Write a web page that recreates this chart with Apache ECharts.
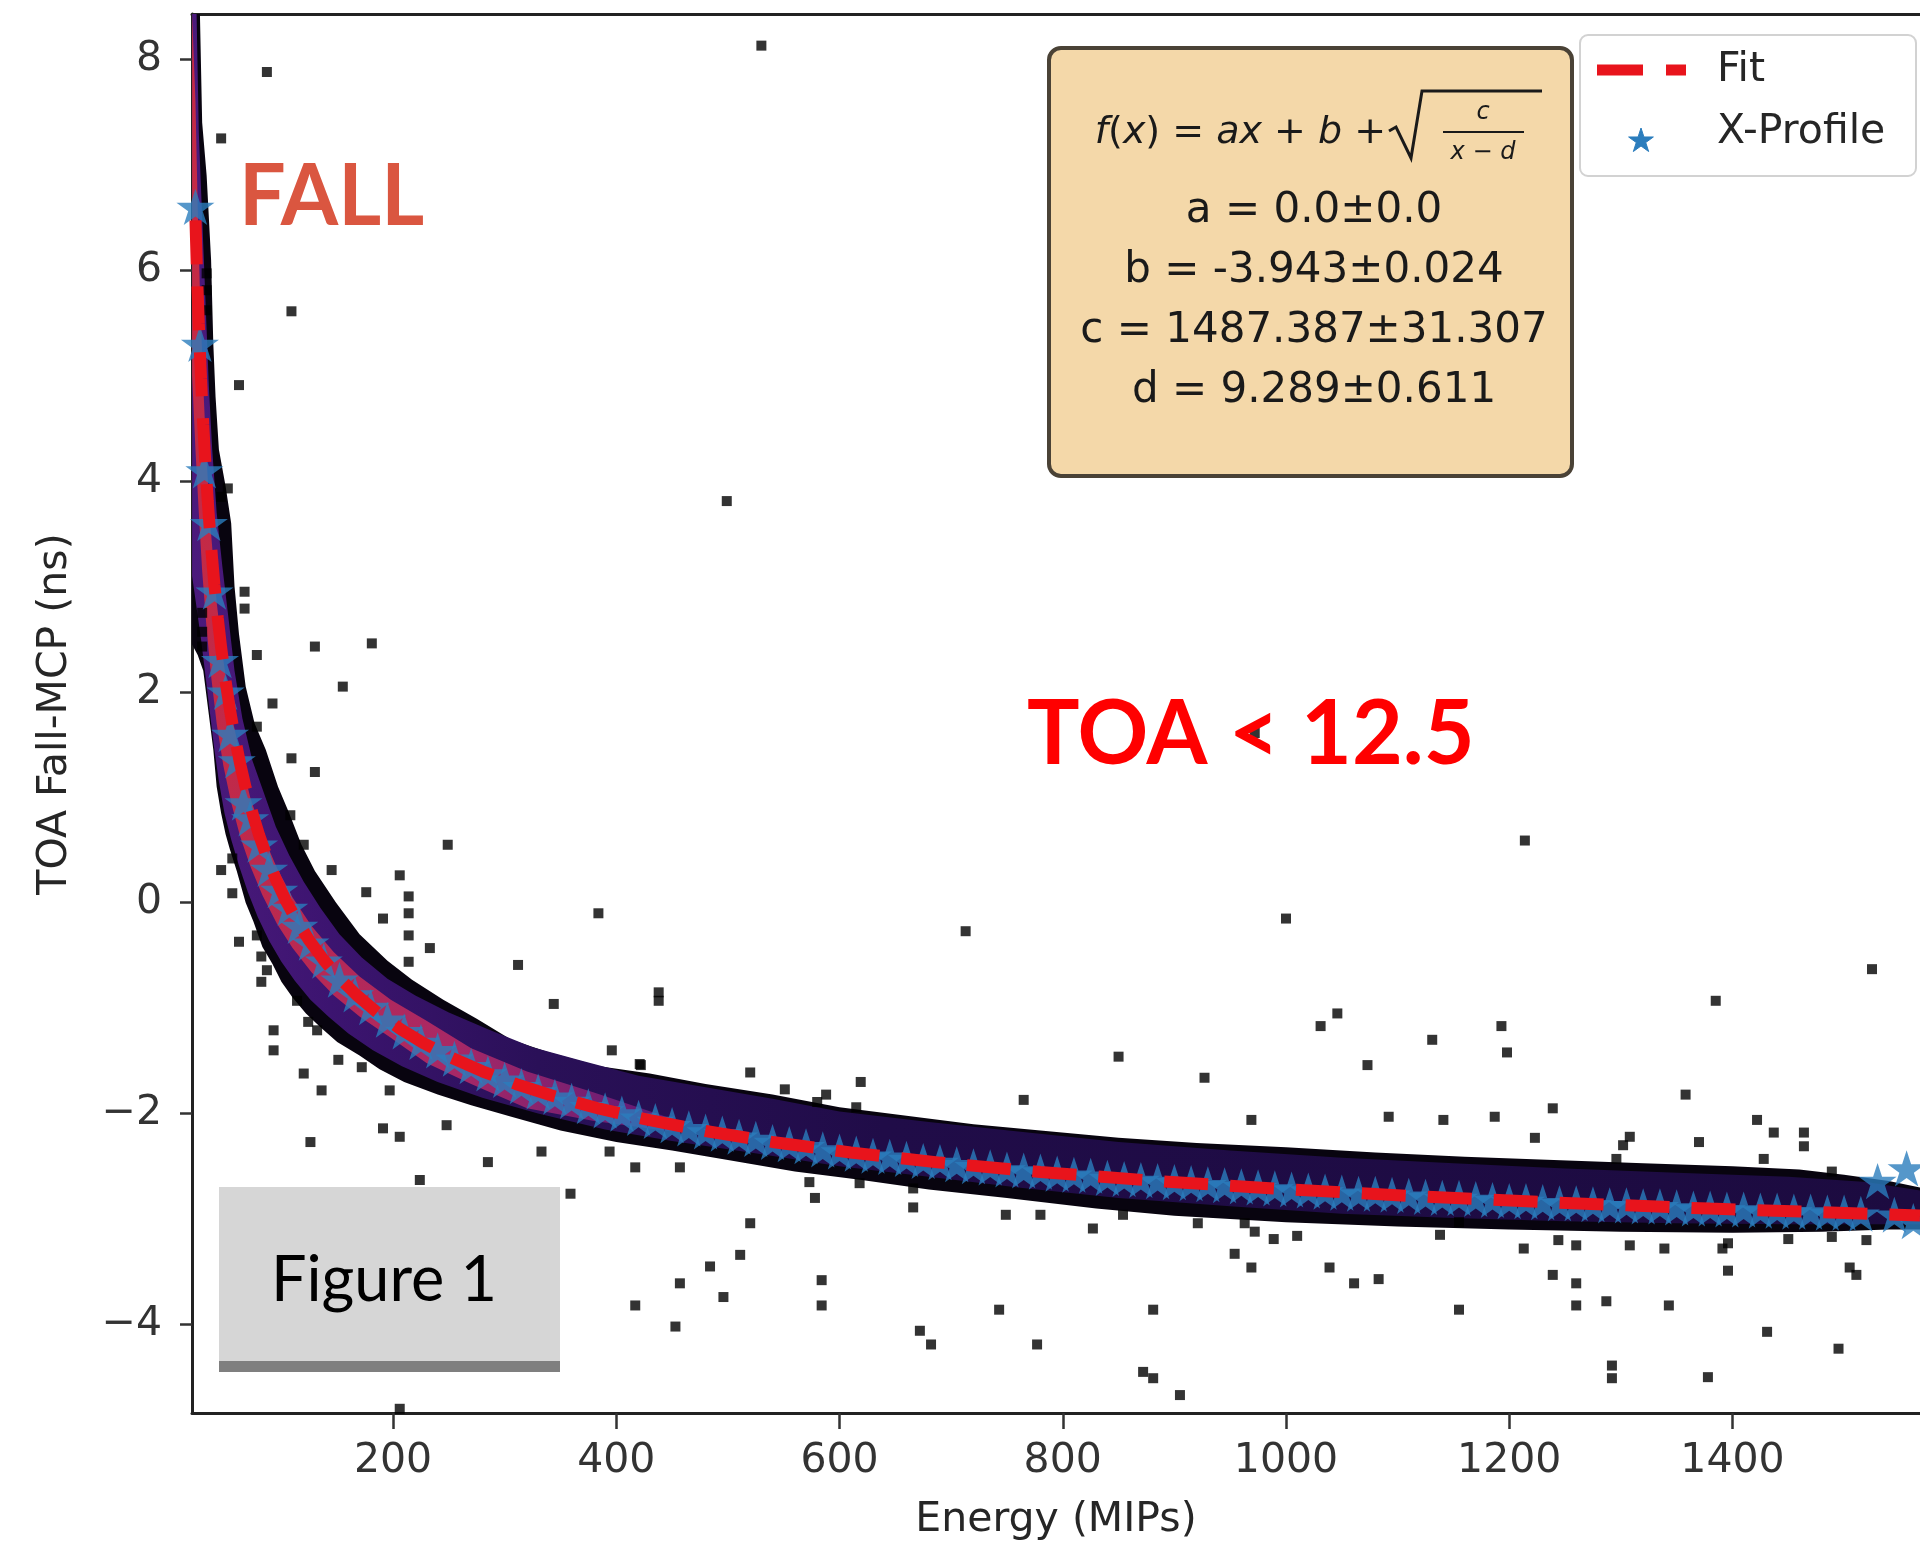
<!DOCTYPE html>
<html>
<head>
<meta charset="utf-8">
<script src="https://cdn.jsdelivr.net/npm/echarts@6/dist/echarts.min.js"></script>
<style>
  html, body { margin: 0; padding: 0; background: #ffffff; }
  #chart { width: 1920px; height: 1545px; }
</style>
</head>
<body>
<div id="chart"></div>
<script>
// ---- axes ----
const xRange = [19.9, 1568];
const yRange = [-4.84, 8.43];
const xTicks = [200, 400, 600, 800, 1000, 1200, 1400];
const yTicks = [-4, -2, 0, 2, 4, 6, 8];

// ---- fit f(x) = a*x + b + sqrt(c / (x - d)) ----
const fitA = 0.0, fitB = -3.943, fitC = 1487.387, fitD = 9.289;
const fitErrA = 0.0, fitErrB = 0.024, fitErrC = 31.307, fitErrD = 0.611;
const fitX = [23, 24, 25, 26, 27, 28, 29, 30, 32, 34, 36, 38, 40, 43, 46, 50, 54, 58, 63, 68,
  74, 80, 87, 95, 104, 114, 125, 138, 152, 168, 186, 206, 228, 252, 280, 310, 345, 385, 430,
  480, 540, 610, 690, 780, 880, 990, 1110, 1240, 1380, 1568];

// ---- X-profile (mean TOA per energy bin) ----
const profileX = [23, 27, 31, 35, 40, 45, 50, 54, 60, 66, 72, 80, 89, 98, 107, 116, 126, 138, 152, 166,
  180, 195, 210, 225, 240, 255, 270, 285, 300, 315, 330, 345, 360, 375, 390, 405, 420, 435, 450, 465,
  480, 495, 510, 525, 540, 555, 570, 585, 600, 615, 630, 645, 660, 675, 690, 705, 720, 735, 750, 765,
  780, 795, 810, 825, 840, 855, 870, 885, 900, 915, 930, 945, 960, 975, 990, 1005, 1020, 1035, 1050, 1065,
  1080, 1095, 1110, 1125, 1140, 1155, 1170, 1185, 1200, 1215, 1230, 1245, 1260, 1275, 1290, 1305, 1320, 1335, 1350, 1365,
  1380, 1395, 1410, 1425, 1440, 1455, 1470, 1485, 1500, 1515, 1530, 1545, 1556, 1562];
const profileY = [6.6, 5.3, 4.1, 3.6, 2.95, 2.3, 2.0, 1.6, 1.35, 0.95, 0.8, 0.55, 0.32, 0.12, -0.05, -0.22, -0.38, -0.55, -0.73, -0.87,
  -0.99, -1.11, -1.22, -1.32, -1.40, -1.48, -1.55, -1.62, -1.68, -1.74, -1.79, -1.84, -1.88, -1.93, -1.97, -2.00, -2.04, -2.07, -2.11, -2.14,
  -2.17, -2.19, -2.22, -2.24, -2.27, -2.29, -2.31, -2.34, -2.36, -2.38, -2.40, -2.41, -2.43, -2.45, -2.46, -2.48, -2.50, -2.51, -2.53, -2.54,
  -2.55, -2.57, -2.58, -2.59, -2.61, -2.62, -2.63, -2.64, -2.65, -2.66, -2.67, -2.68, -2.69, -2.70, -2.71, -2.72, -2.73, -2.74, -2.75, -2.76,
  -2.76, -2.77, -2.78, -2.79, -2.80, -2.80, -2.81, -2.82, -2.83, -2.83, -2.84, -2.85, -2.85, -2.86, -2.87, -2.87, -2.88, -2.88, -2.89, -2.90,
  -2.90, -2.91, -2.91, -2.92, -2.92, -2.93, -2.93, -2.94, -2.94, -2.95, -2.64, -2.96, -2.52, -3.02];

// ---- 2D histogram band: edges of the occupied region, by density level ----
const outerUpper = [[20, 8.43], [27, 8.43], [29, 7.4], [33, 6.9], [37, 6.1], [39, 5.3], [41, 4.8], [44, 4.3],
  [50, 3.95], [55, 3.6], [58, 3.0], [62, 2.55], [68, 2.05], [76, 1.7], [86, 1.45], [97, 1.1], [107, 0.85],
  [118, 0.55], [130, 0.3], [149, 0.0], [170, -0.3], [195, -0.55], [217, -0.73], [245, -0.92], [275, -1.1],
  [306, -1.3], [340, -1.42], [385, -1.55], [430, -1.62], [480, -1.72], [540, -1.82], [600, -1.94], [660, -2.02],
  [720, -2.1], [780, -2.16], [850, -2.23], [920, -2.28], [1000, -2.32], [1080, -2.37], [1160, -2.41],
  [1240, -2.44], [1320, -2.47], [1400, -2.5], [1460, -2.53], [1500, -2.58], [1540, -2.64], [1568, -2.7]];
const outerLower = [[20, 2.45], [25, 2.35], [30, 2.2], [33, 1.95], [36, 1.7], [39, 1.45], [42, 1.1], [46, 0.85],
  [50, 0.65], [54, 0.5], [60, 0.3], [68, 0.0], [75, -0.18], [83, -0.42], [92, -0.58], [100, -0.75], [110, -0.9],
  [122, -1.05], [135, -1.18], [150, -1.32], [170, -1.45], [188, -1.58], [210, -1.7], [240, -1.82], [270, -1.92],
  [306, -2.03], [350, -2.16], [400, -2.27], [450, -2.35], [500, -2.44], [560, -2.55], [620, -2.63], [680, -2.72],
  [750, -2.8], [830, -2.9], [900, -2.97], [1000, -3.03], [1100, -3.07], [1200, -3.1], [1300, -3.12],
  [1400, -3.13], [1480, -3.12], [1540, -3.1], [1568, -3.1]];
const midUpper = [[20, 8.43], [24, 8.43], [26, 7.3], [29, 6.5], [32, 5.7], [35, 4.9], [38, 4.3], [42, 3.7],
  [47, 3.2], [52, 2.75], [58, 2.2], [65, 1.75], [74, 1.35], [84, 1.05], [95, 0.72], [107, 0.45], [120, 0.2],
  [135, -0.05], [152, -0.3], [172, -0.52], [195, -0.72], [220, -0.88], [250, -1.04], [285, -1.2], [325, -1.37],
  [370, -1.5], [420, -1.64], [480, -1.75], [540, -1.86], [600, -1.98], [680, -2.08], [760, -2.17], [850, -2.27],
  [950, -2.35], [1050, -2.42], [1150, -2.47], [1250, -2.52], [1350, -2.56], [1450, -2.6], [1520, -2.65], [1568, -2.73]];
const midLower = [[20, 3.1], [24, 2.8], [28, 2.5], [32, 2.15], [36, 1.8], [40, 1.45], [44, 1.15], [49, 0.85],
  [55, 0.6], [62, 0.35], [70, 0.1], [79, -0.14], [89, -0.36], [100, -0.56], [112, -0.74], [126, -0.92],
  [142, -1.08], [160, -1.24], [182, -1.4], [208, -1.55], [240, -1.7], [280, -1.85], [330, -2.0], [390, -2.15],
  [450, -2.26], [520, -2.37], [600, -2.5], [680, -2.6], [760, -2.7], [850, -2.8], [950, -2.88], [1050, -2.95],
  [1150, -2.99], [1250, -3.02], [1350, -3.04], [1450, -3.05], [1520, -3.05], [1568, -3.05]];
const coreUpper = [[20, 8.43], [23, 7.6], [25, 6.6], [27, 5.8], [30, 4.9], [33, 4.2], [37, 3.5], [42, 2.85],
  [48, 2.3], [55, 1.8], [63, 1.4], [72, 1.0], [83, 0.65], [96, 0.33], [110, 0.05], [127, -0.22], [147, -0.47],
  [170, -0.7], [198, -0.92], [230, -1.12], [270, -1.38], [320, -1.6], [380, -1.8], [450, -2.05]];
const coreLower = [[20, 5.0], [23, 4.3], [26, 3.7], [29, 3.15], [33, 2.6], [37, 2.15], [42, 1.7], [48, 1.3],
  [55, 0.95], [63, 0.63], [72, 0.35], [83, 0.07], [96, -0.2], [110, -0.43], [127, -0.66], [147, -0.88],
  [170, -1.08], [198, -1.28], [230, -1.52], [270, -1.72], [320, -1.95], [380, -2.07], [450, -2.17]];

// ---- isolated histogram cells away from the band ----
const strayCells = [
  [87, 7.88], [46, 7.25], [109, 5.61], [62, 4.91], [52, 3.93], [46, 3.85], [33, 5.97], [33, 5.81], [33, 5.62],
  [530, 8.13], [499, 3.81],
  [67, 2.95], [67, 2.79], [29, 2.75], [29, 2.57], [29, 2.43], [78, 2.35], [130, 2.43], [181, 2.46], [155, 2.05],
  [92, 1.89], [78, 1.67], [109, 1.37], [130, 1.24], [108, 0.83], [120, 0.55], [249, 0.55], [56, 0.42], [46, 0.31],
  [145, 0.31], [206, 0.26], [56, 0.09], [176, 0.10], [214, 0.06], [214, -0.10], [191, -0.15], [384, -0.10],
  [62, -0.37], [78, -0.31], [214, -0.31], [233, -0.43], [82, -0.51], [214, -0.56], [312, -0.59], [87, -0.64],
  [82, -0.75], [438, -0.85], [438, -0.93],
  [114, -0.93], [93, -1.21], [93, -1.40], [124, -1.13], [132, -1.21], [151, -1.49], [120, -1.62], [172, -1.56],
  [136, -1.78], [197, -1.78], [126, -2.27], [191, -2.14], [206, -2.22], [248, -2.11], [285, -2.46], [224, -2.63],
  [359, -2.76], [333, -2.36], [394, -2.36], [417, -2.51], [457, -2.51], [344, -0.96], [421, -1.53], [396, -1.40],
  [457, -3.61], [417, -3.82], [453, -4.02], [206, -4.80],
  [484, -3.45], [496, -3.74], [511, -3.34], [520, -3.04], [578, -2.80], [584, -3.58], [584, -3.82], [666, -2.89],
  [672, -4.06], [682, -4.19], [743, -3.86], [749, -2.96], [777, -4.19],
  [713, -0.27], [422, -1.54], [520, -1.61], [551, -1.77], [619, -1.70], [588, -1.82], [580, -1.89], [615, -1.94],
  [765, -1.87], [850, -1.46], [573, -2.65], [618, -2.66], [666, -2.71], [780, -2.96], [827, -3.09],
  [1000, -0.15], [1046, -1.05], [1031, -1.17], [1131, -1.30], [1193, -1.17], [1198, -1.42], [1073, -1.54],
  [927, -1.66], [969, -2.06], [1092, -2.03], [1141, -2.06], [1187, -2.03], [1239, -1.95], [1223, -2.23],
  [854, -2.96], [921, -3.04], [963, -3.04], [972, -3.12], [989, -3.19], [1010, -3.16], [954, -3.33], [969, -3.46],
  [1039, -3.46], [1061, -3.61], [1083, -3.57], [1213, -3.28], [1244, -3.20], [1260, -3.25], [1239, -3.53],
  [1260, -3.61], [1260, -3.82], [1287, -3.78], [1155, -3.86], [881, -3.86], [872, -4.45], [881, -4.51],
  [905, -4.67], [1292, -4.39], [1292, -4.51], [1138, -3.15], [1155, -3.03],
  [1525, -0.63], [1385, -0.93], [1358, -1.82], [1422, -2.06], [1437, -2.18], [1464, -2.18], [1464, -2.31],
  [1370, -2.27], [1308, -2.22], [1302, -2.30], [1428, -2.43], [1296, -2.43], [1489, -2.55], [1308, -3.25],
  [1339, -3.28], [1391, -3.28], [1396, -3.23], [1396, -3.49], [1450, -3.19], [1489, -3.17], [1520, -3.20],
  [1505, -3.46], [1511, -3.53], [1343, -3.82], [1431, -4.07], [1495, -4.23],
  [1214, 0.59], [972, 1.61], [1378, -4.5]
];

// ---- text ----
const xTitle = 'Energy (MIPs)';
const yTitle = 'TOA Fall-MCP (ns)';
const fitLabel = 'Fit';
const profileLabel = 'X-Profile';
const edgeLabel = 'FALL';
const cutLabel = 'TOA < 12.5';
const figureLabel = 'Figure 1';

// ---- build ----
function fitValue(x) {
  return fitA * x + fitB + Math.sqrt(fitC / (x - fitD));
}
const fitData = fitX.map(x => [x, fitValue(x)]);
const profileData = profileX.map((x, i) => [x, profileY[i]]);

const axisFont = 'DejaVu Sans';
const inkColor = '#262626';
const starPath = 'path://M100,0L122.45,69.1L195.11,69.1L136.33,111.8L158.78,180.9L100,138.2L41.22,180.9L63.67,111.8L4.89,69.1L77.55,69.1Z';

function bandLayer(upper, lower, color, z) {
  return {
    type: 'custom',
    coordinateSystem: 'cartesian2d',
    silent: true,
    clip: true,
    z: z,
    data: [[upper[0][0], upper[0][1]]],
    renderItem: function (params, api) {
      const pts = upper.map(p => api.coord(p))
        .concat(lower.slice().reverse().map(p => api.coord(p)));
      return { type: 'polygon', shape: { points: pts }, style: { fill: color } };
    }
  };
}

function fmtY(v) {
  return v < 0 ? '\u2212' + Math.abs(v) : String(v);
}
function pm(name, val, err) {
  return name + ' = ' + val + '\u00b1' + err;
}

// legend star icon points
function starPoints(cx, cy, r) {
  const pts = [];
  for (let k = 0; k < 10; k++) {
    const ang = (-90 + k * 36) * Math.PI / 180;
    const rr = k % 2 === 0 ? r : r * 0.382;
    pts.push([cx + rr * Math.cos(ang), cy + rr * Math.sin(ang)]);
  }
  return pts;
}

// colour ramps for the density layers (low counts: indigo, high counts: red)
const midFill = new echarts.graphic.LinearGradient(0, 0, 1, 0, [
  { offset: 0, color: '#4b1a7c' }, { offset: 0.08, color: '#3c1470' },
  { offset: 0.2, color: '#2a1058' }, { offset: 0.4, color: '#200c48' }, { offset: 1, color: '#1c0b40' }
]);
const coreFill = new echarts.graphic.LinearGradient(0, 0, 1, 0, [
  { offset: 0, color: '#c42a45' }, { offset: 0.55, color: '#a82866' }, { offset: 1, color: '#5a1a78' }
]);

const chart = echarts.init(document.getElementById('chart'), null, { renderer: 'canvas' });

const graphics = [
  // stat box
  { type: 'rect', z: 100, shape: { x: 1049, y: 48, width: 523, height: 428, r: 12 },
    style: { fill: '#F4D8A9', stroke: '#4a4236', lineWidth: 4 } },
  { type: 'text', z: 101, x: 1386, y: 133,
    style: { text: '{i|f}{n|(}{i|x}{n|) = }{i|ax}{n| + }{i|b}{n| +}',
      rich: {
        i: { fontFamily: axisFont, fontStyle: 'italic', fontSize: 38, fill: '#1a1a1a' },
        n: { fontFamily: axisFont, fontSize: 38, fill: '#1a1a1a' }
      },
      align: 'right', verticalAlign: 'middle' } },
  { type: 'polyline', z: 101, shape: { points: [[1389, 131], [1396, 127], [1411, 158], [1422, 91], [1542, 91]] },
    style: { stroke: '#1a1a1a', lineWidth: 3, fill: null } },
  { type: 'text', z: 101, x: 1483, y: 113,
    style: { text: 'c', fontFamily: axisFont, fontStyle: 'italic', fontSize: 24, fill: '#1a1a1a',
      align: 'center', verticalAlign: 'middle' } },
  { type: 'line', z: 101, shape: { x1: 1443, y1: 132, x2: 1524, y2: 132 },
    style: { stroke: '#1a1a1a', lineWidth: 2 } },
  { type: 'text', z: 101, x: 1483, y: 153,
    style: { text: '{i|x}{n| \u2212 }{i|d}',
      rich: {
        i: { fontFamily: axisFont, fontStyle: 'italic', fontSize: 24, fill: '#1a1a1a' },
        n: { fontFamily: axisFont, fontSize: 24, fill: '#1a1a1a' }
      },
      align: 'center', verticalAlign: 'middle' } },
  { type: 'text', z: 101, x: 1314, y: 211,
    style: { text: pm('a', fitA.toFixed(1), fitErrA.toFixed(1)), fontFamily: axisFont, fontSize: 42,
      fill: '#1a1a1a', align: 'center', verticalAlign: 'middle' } },
  { type: 'text', z: 101, x: 1314, y: 271,
    style: { text: pm('b', fitB.toFixed(3), fitErrB.toFixed(3)), fontFamily: axisFont, fontSize: 42,
      fill: '#1a1a1a', align: 'center', verticalAlign: 'middle' } },
  { type: 'text', z: 101, x: 1314, y: 331,
    style: { text: pm('c', fitC.toFixed(3), fitErrC.toFixed(3)), fontFamily: axisFont, fontSize: 42,
      fill: '#1a1a1a', align: 'center', verticalAlign: 'middle' } },
  { type: 'text', z: 101, x: 1314, y: 391,
    style: { text: pm('d', fitD.toFixed(3), fitErrD.toFixed(3)), fontFamily: axisFont, fontSize: 42,
      fill: '#1a1a1a', align: 'center', verticalAlign: 'middle' } },

  // legend
  { type: 'rect', z: 100, shape: { x: 1580, y: 35, width: 336, height: 141, r: 8 },
    style: { fill: 'rgba(255,255,255,0.85)', stroke: '#d2d2d2', lineWidth: 2 } },
  { type: 'line', z: 101, shape: { x1: 1597, y1: 70, x2: 1686, y2: 70 },
    style: { stroke: '#e8141c', lineWidth: 11, lineDash: [46, 23], lineCap: 'butt' } },
  { type: 'text', z: 101, x: 1717, y: 70,
    style: { text: fitLabel, fontFamily: axisFont, fontSize: 41, fill: inkColor, align: 'left', verticalAlign: 'middle' } },
  { type: 'polygon', z: 101, shape: { points: starPoints(1641, 141, 13) },
    style: { fill: '#2b7dbd', stroke: '#2b7dbd', lineWidth: 1 } },
  { type: 'text', z: 101, x: 1717, y: 132,
    style: { text: profileLabel, fontFamily: axisFont, fontSize: 41, fill: inkColor, align: 'left', verticalAlign: 'middle' } },

  // annotations
  { type: 'text', z: 101, x: 239, y: 197, scaleX: 0.95,
    style: { text: edgeLabel, fontFamily: 'Lato', fontWeight: 'bold', fontSize: 87, fill: '#DA5640',
      align: 'left', verticalAlign: 'middle' } },
  { type: 'text', z: 101, x: 1027, y: 735, scaleX: 0.975,
    style: { text: cutLabel, fontFamily: 'Lato', fontWeight: 'bold', fontSize: 90, fill: '#FF0000',
      align: 'left', verticalAlign: 'middle' } },
  { type: 'rect', z: 100, shape: { x: 219, y: 1187, width: 341, height: 175 },
    style: { fill: '#D6D6D6' } },
  { type: 'rect', z: 100, shape: { x: 219, y: 1361, width: 341, height: 11 },
    style: { fill: '#7F7F7F' } },
  { type: 'text', z: 101, x: 384, y: 1281,
    style: { text: figureLabel, fontFamily: 'Lato', fontSize: 63, fill: '#000000',
      align: 'center', verticalAlign: 'middle' } },

  // axis titles
  { type: 'text', z: 101, x: 1056, y: 1520,
    style: { text: xTitle, fontFamily: axisFont, fontSize: 41, fill: inkColor, align: 'center', verticalAlign: 'middle' } },
  { type: 'text', z: 101, x: 55, y: 714, rotation: Math.PI / 2,
    style: { text: yTitle, fontFamily: axisFont, fontSize: 41, fill: inkColor, align: 'center', verticalAlign: 'middle' } }
];

const option = {
  animation: false,
  backgroundColor: '#ffffff',
  grid: { left: 192, right: 0, top: 14, bottom: 132, containLabel: false },
  xAxis: [
    {
      type: 'value', min: xRange[0], max: xRange[1], position: 'bottom',
      axisLine: { show: true, onZero: false, lineStyle: { color: '#222222', width: 3 } },
      axisTick: { show: true, inside: false, length: 16, customValues: xTicks,
        lineStyle: { color: '#333333', width: 2.5 } },
      axisLabel: { show: true, margin: 28, customValues: xTicks, formatter: v => String(v),
        fontFamily: axisFont, fontSize: 41, color: '#333333' },
      splitLine: { show: false }
    },
    {
      type: 'value', min: xRange[0], max: xRange[1], position: 'top',
      axisLine: { show: true, onZero: false, lineStyle: { color: '#222222', width: 3 } },
      axisTick: { show: false }, axisLabel: { show: false }, splitLine: { show: false }
    }
  ],
  yAxis: {
    type: 'value', min: yRange[0], max: yRange[1],
    axisLine: { show: true, onZero: false, lineStyle: { color: '#222222', width: 3 } },
    axisTick: { show: true, inside: false, length: 12, customValues: yTicks,
      lineStyle: { color: '#333333', width: 2.5 } },
    axisLabel: { show: true, margin: 30, customValues: yTicks, formatter: fmtY,
      fontFamily: axisFont, fontSize: 41, color: '#333333' },
    splitLine: { show: false }
  },
  series: [
    bandLayer(outerUpper, outerLower, '#08040f', 1),
    bandLayer(midUpper, midLower, midFill, 2),
    bandLayer(coreUpper, coreLower, coreFill, 3),
    {
      type: 'scatter', name: 'cells', z: 4, silent: true,
      symbol: 'rect', symbolSize: 10,
      itemStyle: { color: '#000000' },
      data: strayCells
    },
    {
      type: 'scatter', name: profileLabel, z: 5, silent: true,
      symbol: starPath, symbolSize: 38, symbolKeepAspect: true,
      itemStyle: { color: '#2b7dbd' },
      data: profileData
    },
    {
      type: 'line', name: fitLabel, z: 6, silent: true,
      showSymbol: false, symbol: 'none', smooth: false, clip: true,
      lineStyle: { color: '#e8141c', width: 12, type: [44, 22], cap: 'butt' },
      data: fitData
    }
  ],
  graphic: graphics
};

chart.setOption(option);
</script>
</body>
</html>
